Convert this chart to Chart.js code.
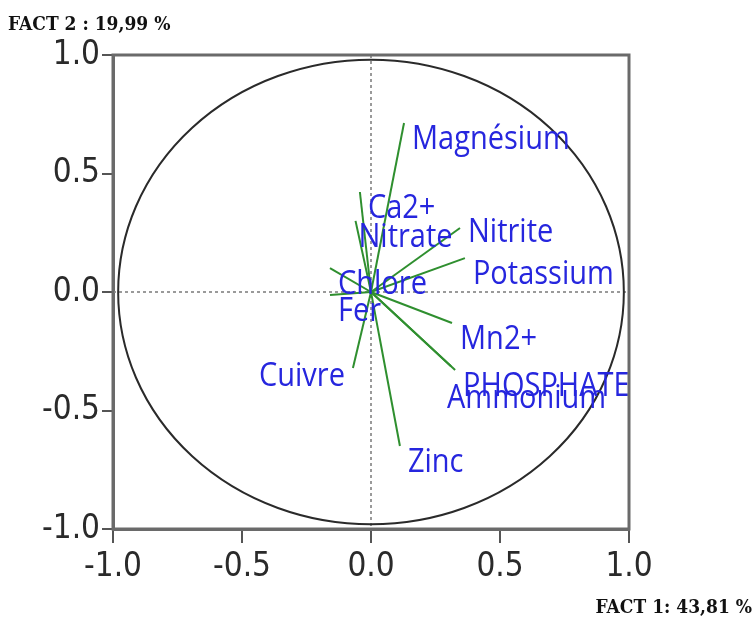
<!DOCTYPE html>
<html>
<head>
<meta charset="utf-8">
<script src="https://cdn.jsdelivr.net/npm/chart.js@4.4.1/dist/chart.umd.min.js"></script>
<style>
  html, body { margin: 0; padding: 0; background: #fff; }
  #wrap { position: relative; width: 754px; height: 628px; }
</style>
</head>
<body>
<div id="wrap"><canvas id="cercle" width="754" height="628"></canvas></div>
<script>
// Variables of the correlation circle (factor 1 / factor 2 loadings)
const variables = ['Magnésium', 'Ca2+', 'Nitrate', 'Nitrite', 'Potassium', 'Chlore', 'Fer',
                   'Cuivre', 'Mn2+', 'PHOSPHATE', 'Ammonium', 'Zinc'];
const fact1 = [0.128, -0.043, -0.060, 0.345, 0.364, -0.159, -0.159, -0.070, 0.314, 0.326, 0.310, 0.112];
const fact2 = [0.713, 0.422, 0.300, 0.270, 0.143, 0.101, -0.013, -0.321, -0.131, -0.329, -0.313, -0.650];
const axisTicks = [-1.0, -0.5, 0.0, 0.5, 1.0];
const circleRadius = 0.98;

const axisLabelX = 'FACT 1: 43,81 %';
const axisLabelY = 'FACT 2 : 19,99 %';

// label tweaks where names would collide
const labelNudge = {
    'Nitrite': [0, -12],
    'Ammonium': [-12, 16],
    'Nitrate': [-5, 0]
};
const leftLabels = ['Cuivre'];

const tickFont = { family: "'Liberation Sans Narrow', 'DejaVu Sans Condensed', sans-serif", size: 33 };

const datasets = variables.map((name, i) => ({
    label: name,
    data: [{ x: 0, y: 0 }, { x: fact1[i], y: fact2[i] }],
    showLine: true,
    borderColor: '#2f8f2f',
    borderWidth: 2,
    pointRadius: 0,
    fill: false
}));

// frame, zero lines, unit circle and variable names
const circlePlugin = {
    id: 'circlePlugin',
    beforeDatasetsDraw(chart) {
        const { ctx, chartArea: a, scales: { x, y } } = chart;
        ctx.save();
        ctx.strokeStyle = '#9a9a9a';
        ctx.lineWidth = 2;
        ctx.setLineDash([3, 3]);
        const x0 = x.getPixelForValue(0), y0 = y.getPixelForValue(0);
        ctx.beginPath();
        ctx.moveTo(x0, a.top); ctx.lineTo(x0, a.bottom);
        ctx.moveTo(a.left, y0); ctx.lineTo(a.right, y0);
        ctx.stroke();
        ctx.setLineDash([]);

        const rx = x.getPixelForValue(circleRadius) - x0;
        const ry = y0 - y.getPixelForValue(circleRadius);
        ctx.strokeStyle = '#2a2a2a';
        ctx.lineWidth = 2;
        ctx.beginPath();
        ctx.ellipse(x0, y0, rx, ry, 0, 0, Math.PI * 2);
        ctx.stroke();
        ctx.restore();
    },
    afterDatasetsDraw(chart) {
        const { ctx, scales: { x, y } } = chart;
        ctx.save();
        ctx.fillStyle = '#2626de';
        ctx.font = "29px 'Open Sans', 'Noto Sans', sans-serif";
        ctx.textBaseline = 'middle';
        variables.forEach((name, i) => {
            const px = x.getPixelForValue(fact1[i]);
            const py = y.getPixelForValue(fact2[i]);
            const n = labelNudge[name] || [0, 0];
            ctx.save();
            if (leftLabels.includes(name)) {
                ctx.textAlign = 'right';
                ctx.translate(px - 8 + n[0], py + 9 + n[1]);
            } else {
                ctx.textAlign = 'left';
                ctx.translate(px + 8 + n[0], py + 17 + n[1]);
            }
            ctx.scale(1, 1.1);
            ctx.fillText(name, 0, 0);
            ctx.restore();
        });
        ctx.restore();
    },
    afterDraw(chart) {
        const { ctx, chartArea: a } = chart;
        ctx.save();
        ctx.strokeStyle = '#6a6a6a';
        ctx.lineWidth = 3;
        ctx.strokeRect(a.left, a.top, a.right - a.left, a.bottom - a.top);

        // factor titles
        ctx.fillStyle = '#111';
        ctx.font = "bold 19px 'DejaVu Serif Condensed', 'DejaVu Serif', serif";
        ctx.textBaseline = 'middle';
        ctx.textAlign = 'left';
        ctx.fillText(axisLabelY, 8, 25);
        ctx.textAlign = 'right';
        ctx.fillText(axisLabelX, 752, 608);
        ctx.restore();
    }
};

new Chart(document.getElementById('cercle'), {
    type: 'scatter',
    data: { datasets },
    plugins: [circlePlugin],
    options: {
        responsive: false,
        animation: false,
        layout: { padding: { top: 55, right: 125, left: 0, bottom: 0 } },
        plugins: { legend: { display: false }, tooltip: { enabled: false } },
        scales: {
            x: {
                type: 'linear',
                min: -1, max: 1,
                afterBuildTicks: s => { s.ticks = axisTicks.map(v => ({ value: v })); },
                afterFit: s => { s.height = 99; },
                ticks: {
                    callback: v => v.toFixed(1),
                    font: tickFont,
                    color: '#2a2a2a',
                    padding: 5,
                    maxRotation: 0
                },
                grid: { drawOnChartArea: false, drawTicks: true, tickLength: 14, color: '#555', lineWidth: 2 },
                border: { display: true, color: '#6a6a6a', width: 3 }
            },
            y: {
                type: 'linear',
                min: -1, max: 1,
                afterBuildTicks: s => { s.ticks = axisTicks.map(v => ({ value: v })); },
                afterFit: s => { s.width = 113; },
                ticks: {
                    callback: v => v.toFixed(1),
                    font: tickFont,
                    color: '#2a2a2a',
                    padding: 2
                },
                grid: { drawOnChartArea: false, drawTicks: true, tickLength: 11, color: '#555', lineWidth: 2 },
                border: { display: true, color: '#6a6a6a', width: 3 }
            }
        }
    }
});
</script>
</body>
</html>
